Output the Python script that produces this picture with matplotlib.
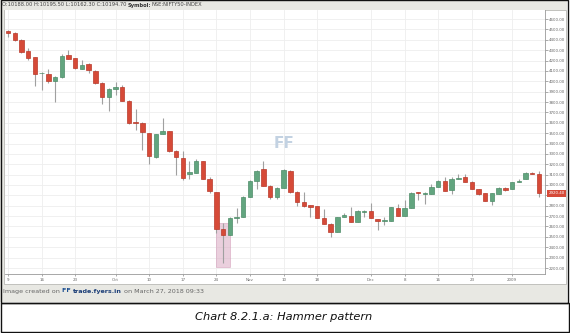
import matplotlib
matplotlib.use("Agg")
import matplotlib.pyplot as plt
from matplotlib.patches import Rectangle
import matplotlib.transforms as mtransforms

# ---------------- data ----------------
opens = [4484, 4468, 4398, 4292, 4230, 4077, 4070, 4000, 4038, 4250,
         4220, 4118, 4163, 4102, 3986, 3845, 3922, 3947, 3812, 3602,
         3600, 3498, 3267, 3489, 3517, 3330, 3260, 3103, 3118, 3231,
         3058, 2932, 2578, 2522, 2680, 2690, 2882, 3042, 3151, 2990,
         2882, 2968, 3138, 2935, 2838, 2807, 2797, 2680, 2625, 2550,
         2690, 2702, 2647, 2735, 2750, 2672, 2657, 2657, 2775, 2705,
         2775, 2935, 2912, 2912, 2978, 3040, 2952, 3058, 3075, 3032,
         2962, 2920, 2850, 2912, 2975, 2960, 3025, 3055, 3118, 3105]
highs = [4494, 4470, 4405, 4318, 4232, 4092, 4115, 4050, 4262, 4300,
         4225, 4205, 4180, 4110, 3992, 3932, 3995, 3963, 3820, 3730,
         3605, 3502, 3492, 3643, 3520, 3335, 3330, 3231, 3247, 3235,
         3073, 2935, 2630, 2690, 2775, 2890, 3050, 3145, 3234, 3000,
         2980, 3150, 3140, 2940, 2935, 2810, 2800, 2766, 2630, 2695,
         2728, 2785, 2755, 2760, 2822, 2675, 2690, 2790, 2818, 2855,
         2935, 2937, 2930, 3010, 3050, 3075, 3075, 3102, 3102, 3035,
         2965, 2922, 2920, 2985, 2985, 3028, 3055, 3125, 3128, 3138]
lows = [4427, 4390, 4275, 4205, 3954, 3915, 3980, 3802, 4035, 4212,
        4120, 4115, 4082, 3973, 3780, 3716, 3867, 3810, 3587, 3530,
        3337, 3200, 3262, 3487, 3320, 3096, 3048, 3054, 3118, 3060,
        2920, 2533, 2250, 2522, 2630, 2690, 2882, 2958, 2990, 2868,
        2865, 2968, 2920, 2797, 2790, 2694, 2678, 2622, 2502, 2550,
        2688, 2640, 2645, 2694, 2678, 2568, 2610, 2655, 2705, 2705,
        2775, 2855, 2818, 2912, 2978, 2945, 2912, 3058, 3032, 2958,
        2900, 2850, 2808, 2912, 2945, 2960, 3025, 3055, 3105, 2887]
closes = [4465, 4398, 4282, 4227, 4070, 4082, 4005, 4038, 4243, 4218,
          4125, 4157, 4108, 3986, 3845, 3922, 3947, 3812, 3594, 3597,
          3508, 3279, 3489, 3517, 3330, 3267, 3067, 3122, 3231, 3060,
          2942, 2578, 2518, 2680, 2696, 2882, 3042, 3138, 2990, 2882,
          2968, 3145, 2935, 2838, 2797, 2790, 2680, 2625, 2550, 2690,
          2712, 2647, 2750, 2750, 2680, 2655, 2660, 2786, 2705, 2775,
          2925, 2920, 2925, 2978, 3040, 2945, 3058, 3070, 3032, 2958,
          2912, 2850, 2920, 2975, 2952, 3025, 3040, 3118, 3105, 2920.4]

x_tick_idx = [0, 5, 10, 16, 21, 26, 31, 36, 41, 46, 54, 59, 64, 69, 75]
x_tick_labels = ["9", "16", "23", "Oct", "10", "17", "24", "Nov", "10", "18",
                 "Dec", "8", "16", "23", "2009"]
y_ticks = list(range(2200, 4700, 100))
last_price = 2920.40
hammer_index = 32

header_ohlc = "O:10188.00 H:10195.50 L:10162.30 C:10194.70 "
header_symbol_key = "Symbol:"
header_symbol = "NSE:NIFTY50-INDEX"
footer_parts = ["Image created on ", "trade.fyers.in", " on March 27, 2018 09:33"]
caption = "Chart 8.2.1.a: Hammer pattern"

# ---------------- style ----------------
RED = "#d64a38"
RED_EDGE = "#b8392a"
GREEN = "#62a57f"
GREEN_EDGE = "#4d8c68"
WICK = "#a0a0a0"
PANEL = "#e8e8e3"

W, H = 570, 333
fig = plt.figure(figsize=(W / 100, H / 100), dpi=100)
fig.patch.set_facecolor("white")


def fx(px):
    return px / W


def fy(py):
    return 1 - py / H


def frect(x0, y0, x1, y1, **kw):
    r = Rectangle((fx(x0), fy(y1)), (x1 - x0) / W, (y1 - y0) / H,
                  transform=fig.transFigure, **kw)
    fig.patches.append(r)
    return r


# gray panel and borders (behind axes)
frect(0, 0, 567, 302, facecolor=PANEL, edgecolor="none", zorder=-3)
frect(4, 10, 566, 284, facecolor="white", edgecolor="#b9b9b5", linewidth=0.6, zorder=-2)
frect(0.5, 302.5, 568.5, 331.5, facecolor="white", edgecolor="#111111", linewidth=1.0, zorder=-2)
frect(0.5, 0.0, 567.5, 302.5, facecolor="none", edgecolor="#111111", linewidth=1.0, zorder=-1)

# ---------------- axes ----------------
ax_left, ax_right, ax_top, ax_bot = 5, 545, 10, 274
ax = fig.add_axes([fx(ax_left), fy(ax_bot), (ax_right - ax_left) / W, (ax_bot - ax_top) / H])
ax.set_zorder(1)
ax.set_facecolor("white")

x0_px, step_px = 8.0, 531.0 / 79
ax.set_xlim((ax_left - x0_px) / step_px, (ax_right - x0_px) / step_px)
p_per_px = 2400.0 / 249.0
ax.set_ylim(4600 - (ax_bot - 19) * p_per_px, 4600 + (19 - ax_top) * p_per_px)

n = len(opens)
idx = list(range(n))
cols = [GREEN if c >= o else RED for o, c in zip(opens, closes)]
ecols = [GREEN_EDGE if c >= o else RED_EDGE for o, c in zip(opens, closes)]
ax.vlines(idx, lows, highs, colors=WICK, linewidth=0.8, zorder=2)
bottoms = [min(o, c) for o, c in zip(opens, closes)]
heights = [max(abs(c - o), 6) for o, c in zip(opens, closes)]
ax.bar(idx, heights, bottom=bottoms, width=0.66, color=cols, edgecolor=ecols,
       linewidth=0.5, zorder=3)

# hammer highlight
hx = hammer_index
ax.add_patch(Rectangle((hx - 1.1, lows[hx] - 40), 2.2, highs[hx] - lows[hx] + 40,
                       facecolor="#d9a9c2", edgecolor="#cf93b3", alpha=0.55,
                       linewidth=0.6, zorder=1.5))

# grid / ticks
ax.set_xticks(x_tick_idx)
ax.set_xticklabels(x_tick_labels)
ax.set_yticks(y_ticks)
ax.set_yticklabels(["" if v == 2900 else f"{v:.2f}" for v in y_ticks])
ax.yaxis.tick_right()
ax.grid(True, color="#eeeeee", linewidth=0.6, zorder=0)
ax.set_axisbelow(True)
ax.tick_params(axis="y", length=2, width=0.5, pad=1, labelsize=2.9,
               colors="#888888", labelcolor="#666666")
ax.tick_params(axis="x", length=1.5, width=0.5, pad=1.5, labelsize=2.9,
               colors="#888888", labelcolor="#666666")
for s in ["left", "top"]:
    ax.spines[s].set_visible(False)
for s in ["right", "bottom"]:
    ax.spines[s].set_color("#999999")
    ax.spines[s].set_linewidth(0.6)

# last price marker
trans = mtransforms.blended_transform_factory(ax.transAxes, ax.transData)
ax.text(1.006, last_price, f"{last_price:.2f}", transform=trans, fontsize=2.9,
        color="white", va="center", ha="left", clip_on=False, zorder=10,
        bbox=dict(boxstyle="square,pad=0.35", facecolor="#d64a38", edgecolor="none"))

# watermark logo
ax.text(0.5165, 0.495, "FF", transform=ax.transAxes, fontsize=11, fontweight="bold",
        color="#c3d2e2", ha="center", va="center", zorder=1)

# ---------------- header / footer ----------------
renderer = fig.canvas.get_renderer()


def seq_text(parts, x_px, y_px):
    x = x_px
    for txt, kw in parts:
        t = fig.text(fx(x), fy(y_px), txt, va="center", ha="left", zorder=5, **kw)
        bb = t.get_window_extent(renderer=renderer)
        x += bb.width


seq_text([(header_ohlc, dict(fontsize=3.7, color="#444444")),
          (header_symbol_key, dict(fontsize=3.7, color="#333333", fontweight="bold")),
          (header_symbol, dict(fontsize=3.7, color="#444444"))], 2, 5)

seq_text([(footer_parts[0], dict(fontsize=4.6, color="#666666")),
          ("FF ", dict(fontsize=4.6, color="#1d4f91", fontweight="bold")),
          (footer_parts[1], dict(fontsize=4.6, color="#1d3f78", fontweight="bold")),
          (footer_parts[2], dict(fontsize=4.6, color="#666666"))], 3, 291)

fig.text(fx(284), fy(317), caption, fontsize=8.2, style="italic", color="#111111",
         ha="center", va="center", zorder=5)

fig.savefig("out.png", dpi=100)
